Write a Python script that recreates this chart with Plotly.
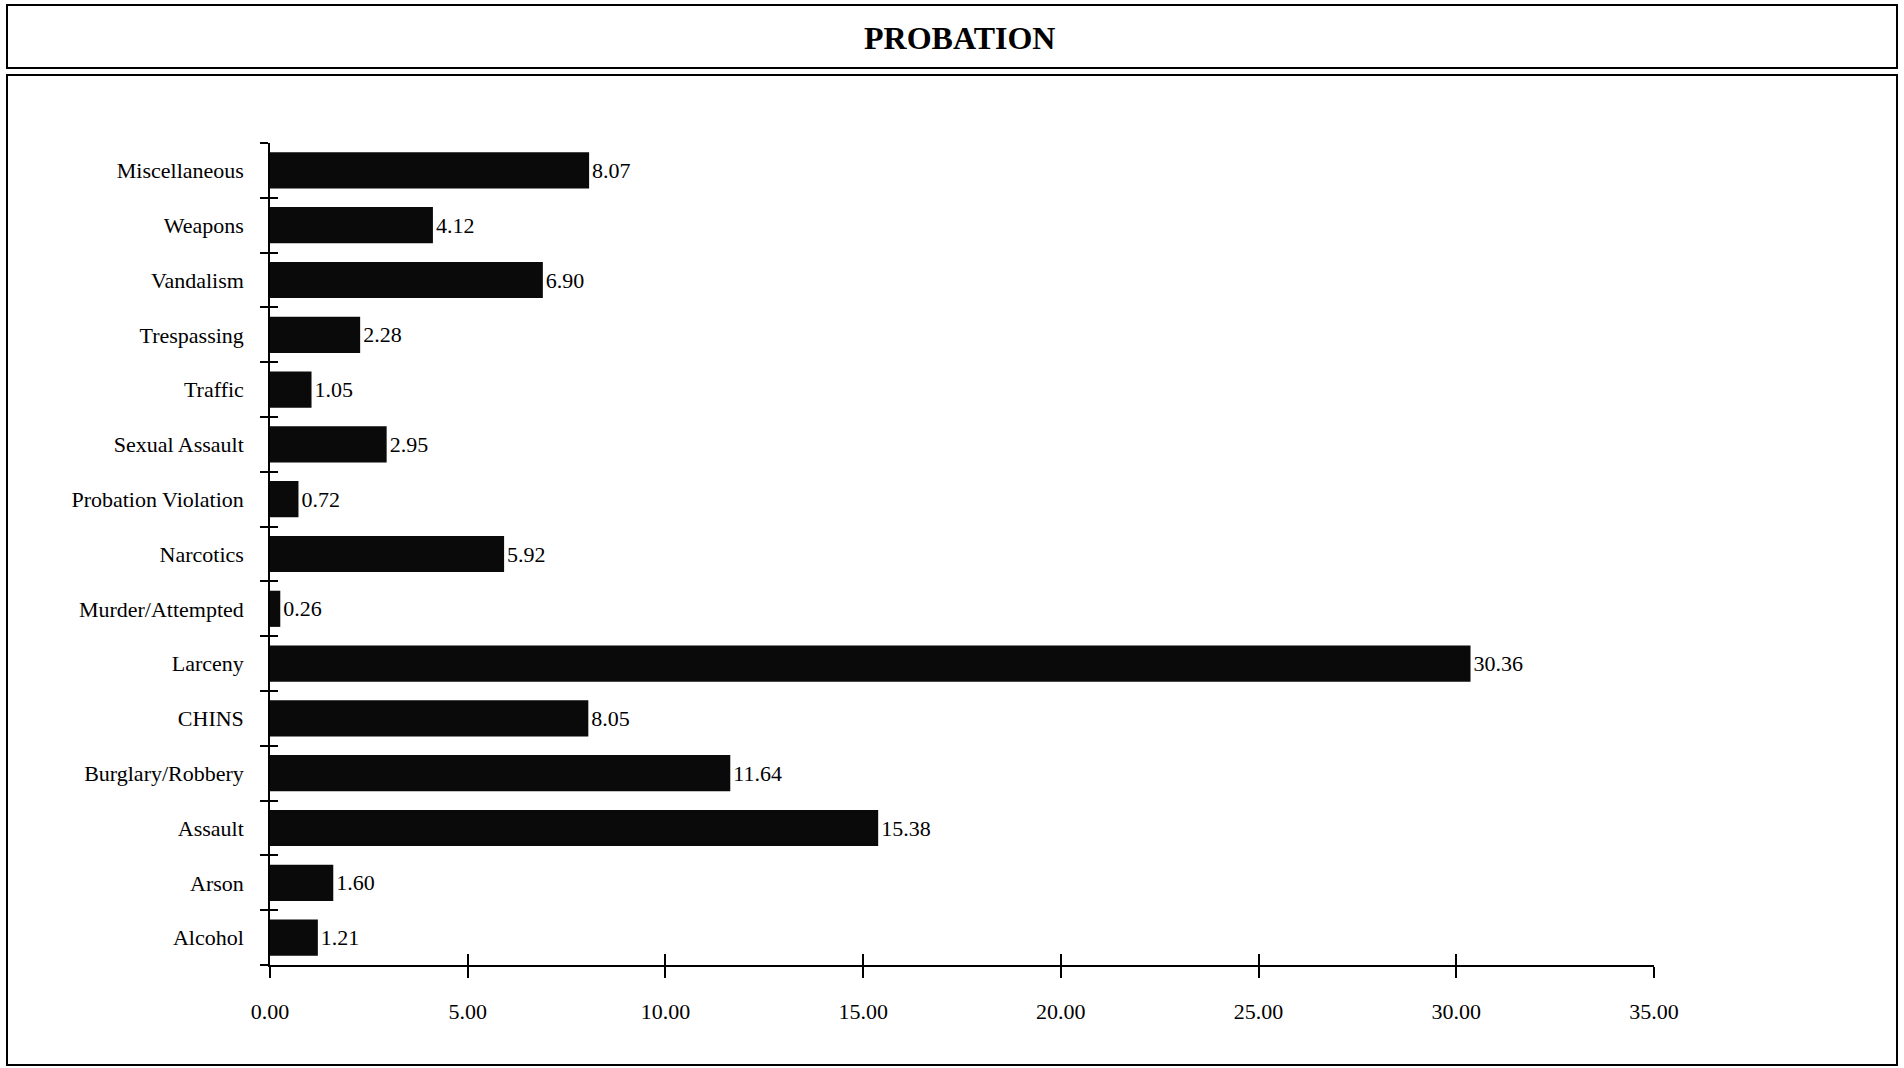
import plotly.graph_objects as go

categories = ["Alcohol", "Arson", "Assault", "Burglary/Robbery", "CHINS", "Larceny",
              "Murder/Attempted", "Narcotics", "Probation Violation", "Sexual Assault",
              "Traffic", "Trespassing", "Vandalism", "Weapons", "Miscellaneous"]
values = [1.21, 1.60, 15.38, 11.64, 8.05, 30.36, 0.26, 5.92, 0.72, 2.95,
          1.05, 2.28, 6.90, 4.12, 8.07]
x_ticks = [0, 5, 10, 15, 20, 25, 30, 35]
x_tick_labels = ["0.00", "5.00", "10.00", "15.00", "20.00", "25.00", "30.00", "35.00"]
title = "PROBATION"

FONT = "Liberation Serif, Times New Roman, serif"
W, H = 1904, 1068
L, R, T, B = 270, 250, 143, 103
pw, ph = W - L - R, H - T - B

def px(x):
    return (x - L) / pw

def py(y):
    return (H - B - y) / ph

fig = go.Figure()
fig.add_trace(go.Bar(
    x=values, y=categories, orientation="h",
    marker=dict(color="#0a0a0a", line=dict(width=0)),
    width=0.66,
    texttemplate="%{x:.2f}", textposition="outside",
    textfont=dict(family=FONT, size=22, color="black"),
    cliponaxis=False, showlegend=False, hoverinfo="x+y",
))

fig.update_layout(
    width=W, height=H,
    margin=dict(l=L, r=R, t=T, b=B, pad=0),
    paper_bgcolor="white", plot_bgcolor="white",
    font=dict(family=FONT, color="black"),
    bargap=0.34,
    xaxis=dict(range=[0, 35], tickvals=x_ticks, ticktext=x_tick_labels,
               showgrid=False, zeroline=False, showline=True, linecolor="black",
               linewidth=2, ticks="outside", ticklen=11, tickwidth=1.5,
               tickcolor="black", ticklabelstandoff=15,
               tickfont=dict(family=FONT, size=22, color="black")),
    yaxis=dict(type="category", categoryorder="array", categoryarray=categories,
               range=[-0.5, 14.5],
               showgrid=False, zeroline=False, showline=True, linecolor="black",
               linewidth=1.5, ticks="outside", tickson="boundaries", ticklen=8,
               tickwidth=1.5, tickcolor="black", ticklabelstandoff=20,
               tickfont=dict(family=FONT, size=22, color="black")),
    xaxis2=dict(overlaying="x", anchor="y", side="bottom", range=[0, 35],
                tickvals=x_ticks, showticklabels=False, ticks="inside",
                ticklen=11, tickwidth=1.5, tickcolor="black",
                showgrid=False, zeroline=False, showline=False),
    yaxis2=dict(overlaying="y", anchor="x", side="left", range=[-0.5, 14.5],
                tickvals=[i - 0.5 for i in range(len(categories) + 1)],
                showticklabels=False, ticks="inside", ticklen=8, tickwidth=1.5,
                tickcolor="black", showgrid=False, zeroline=False, showline=False),
)

# invisible trace to activate overlay axes
fig.add_trace(go.Scatter(x=[0], y=[0], xaxis="x2", yaxis="y2", mode="markers",
                         marker=dict(opacity=0), showlegend=False, hoverinfo="skip"))

# title box and chart box
fig.add_shape(type="rect", xref="paper", yref="paper",
              x0=px(7), x1=px(1897), y0=py(68), y1=py(5),
              line=dict(color="black", width=2))
fig.add_shape(type="rect", xref="paper", yref="paper",
              x0=px(7), x1=px(1897), y0=py(1065), y1=py(75),
              line=dict(color="black", width=2))
fig.add_annotation(text="<b>" + title + "</b>", xref="paper", yref="paper",
                   x=px(959), y=py(37.5), showarrow=False,
                   font=dict(family=FONT, size=32, color="black"),
                   xanchor="center", yanchor="middle")

fig.write_html("out.html", config={"displayModeBar": False},
               post_script="document.body.style.margin='0';document.body.style.overflow='hidden';")
